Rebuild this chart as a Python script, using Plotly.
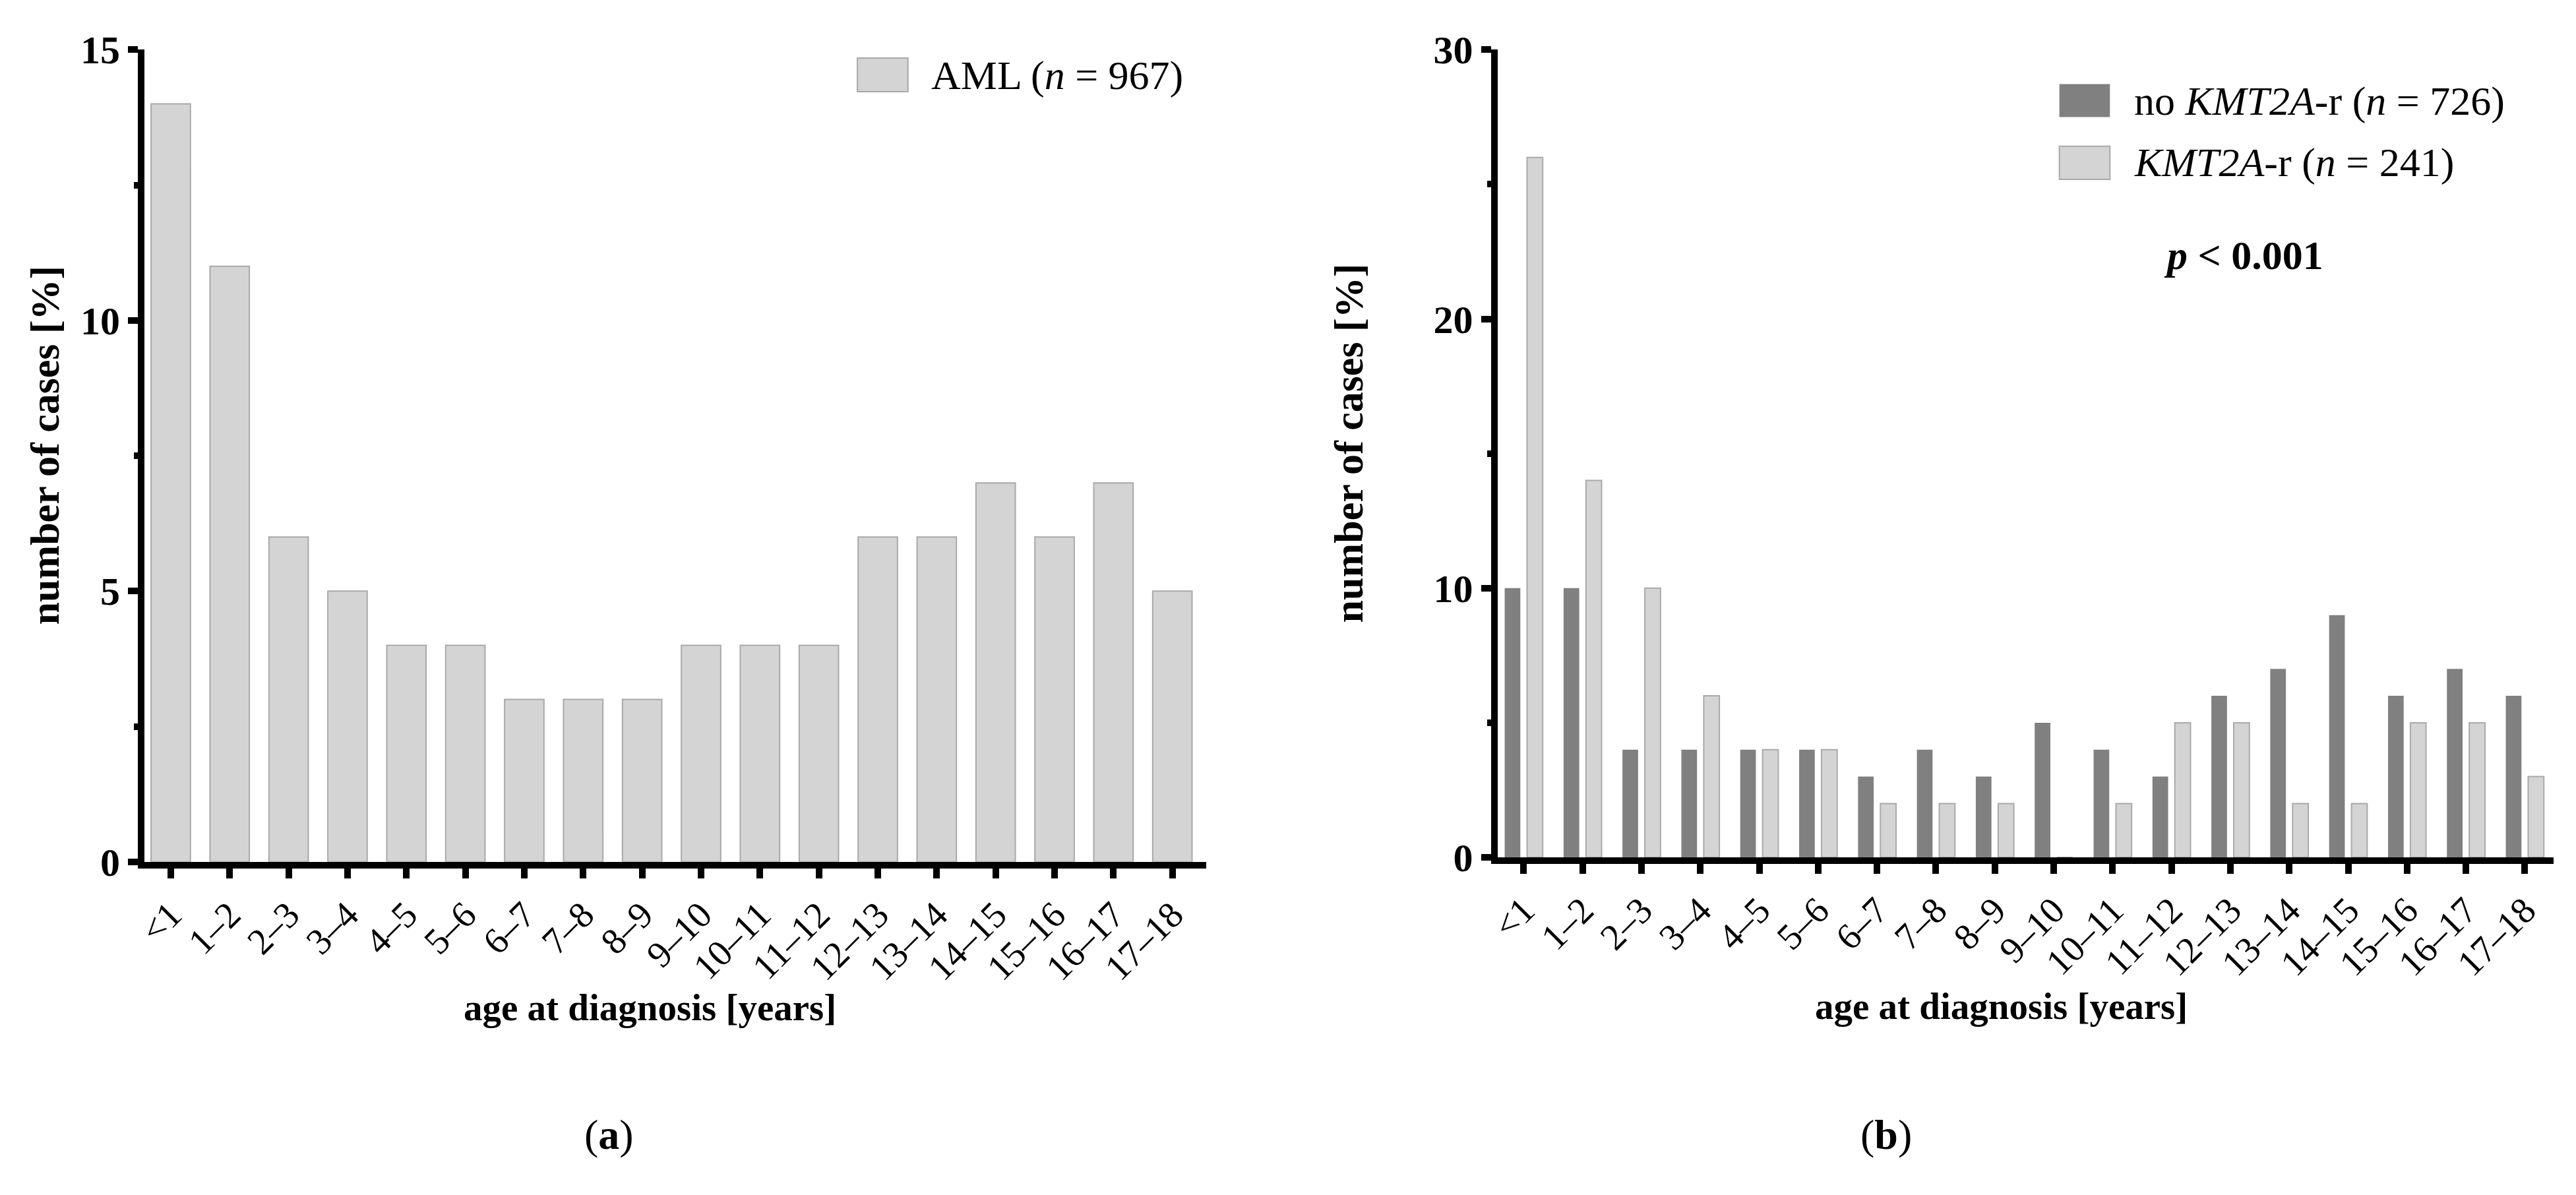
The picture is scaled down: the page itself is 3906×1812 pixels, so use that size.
import plotly.graph_objects as go

# ---------------- data ----------------
age_groups = ["<1", "1–2", "2–3", "3–4", "4–5", "5–6", "6–7", "7–8", "8–9", "9–10",
              "10–11", "11–12", "12–13", "13–14", "14–15", "15–16", "16–17", "17–18"]
aml_all = [14, 11, 6, 5, 4, 4, 3, 3, 3, 4, 4, 4, 6, 6, 7, 6, 7, 5]
no_kmt2a = [10, 10, 4, 4, 4, 4, 3, 4, 3, 5, 4, 3, 6, 7, 9, 6, 7, 6]
kmt2a_r = [26, 14, 10, 6, 4, 4, 2, 2, 2, 0, 2, 5, 5, 2, 2, 5, 5, 3]
left_yticks = [0, 5, 10, 15]
right_yticks = [0, 10, 20, 30]

# ---------------- geometry helpers ----------------
W, H = 3906, 1812
def fx(p):
    return p / W
def fy(p):
    return 1 - p / H

FONT = "Liberation Serif"
LIGHT = "#d4d4d4"
LIGHT_EDGE = "#a9a9ab"
DARK = "#808080"

fig = go.Figure()

fig.add_trace(go.Bar(
    x=age_groups, y=aml_all, name="AML (n = 967)", width=0.668,
    marker=dict(color=LIGHT, line=dict(color=LIGHT_EDGE, width=2)),
    xaxis="x", yaxis="y", showlegend=False,
))
fig.add_trace(go.Bar(
    x=age_groups, y=no_kmt2a, name="no KMT2A-r (n = 726)",
    marker=dict(color=DARK, line=dict(color=DARK, width=0)),
    xaxis="x2", yaxis="y2", showlegend=False,
))
fig.add_trace(go.Bar(
    x=age_groups, y=kmt2a_r, name="KMT2A-r (n = 241)",
    marker=dict(color=LIGHT, line=dict(color=LIGHT_EDGE, width=2)),
    xaxis="x2", yaxis="y2", showlegend=False,
))

xcommon = dict(
    type="category", showline=True, linewidth=10, linecolor="black",
    ticks="outside", ticklen=15, tickwidth=10, tickcolor="black",
    tickangle=-45, tickfont=dict(family=FONT, size=56, color="black"),
    showgrid=False, zeroline=False, fixedrange=True,
)
ycommon = dict(
    showline=True, linewidth=10, linecolor="black",
    ticks="outside", ticklen=15, tickwidth=10, tickcolor="black",
    tickfont=dict(family=FONT, size=60, color="black", weight="bold"),
    showgrid=False, zeroline=False, fixedrange=True,
)

fig.update_layout(
    width=W, height=H, autosize=False,
    margin=dict(l=0, r=0, t=0, b=0),
    paper_bgcolor="white", plot_bgcolor="white",
    barmode="group", bargap=0.24, bargroupgap=0.30,
    xaxis=dict(domain=[fx(202), fx(1819)], anchor="y", range=[-0.446, 17.57], **xcommon),
    yaxis=dict(domain=[fy(1323), fy(45)], anchor="x", range=[0, 15],
               tickvals=left_yticks,
               minor=dict(dtick=2.5, tick0=0, ticks="outside", ticklen=6, tickwidth=10, tickcolor="black"),
               **ycommon),
    xaxis2=dict(domain=[fx(2263), fx(3872)], anchor="y2", range=[-0.446, 17.49], **xcommon),
    yaxis2=dict(domain=[fy(1316), fy(45)], anchor="x2", range=[0, 30],
                tickvals=right_yticks,
                minor=dict(dtick=5, tick0=0, ticks="outside", ticklen=6, tickwidth=10, tickcolor="black"),
                **ycommon),
    showlegend=False,
)

annotations = []
def ann(text, x, y, size, xanchor="center", yanchor="middle", angle=0, bold=False):
    annotations.append(dict(
        text=text, x=fx(x), y=fy(y), xref="paper", yref="paper",
        xanchor=xanchor, yanchor=yanchor, showarrow=False, textangle=angle,
        font=dict(family=FONT, size=size, color="black", weight="bold" if bold else "normal"),
    ))

# axis titles
ann("age at diagnosis [years]", 972, 1552, 57, bold=True)
ann("age at diagnosis [years]", 3030, 1550, 57, bold=True)
ann("number of cases [%]", 50, 667, 62, angle=-90, bold=True)
ann("number of cases [%]", 2036, 664, 62, angle=-90, bold=True)

# legends (manual swatches)
ann("AML (<i>n</i> = 967)", 1398, 86, 62, xanchor="left")
ann("no <i>KMT2A</i>-r (<i>n</i> = 726)", 3231, 126, 62, xanchor="left")
ann("<i>KMT2A</i>-r (<i>n</i> = 241)", 3231, 223, 62, xanchor="left")
ann("<i>p</i> &lt; 0.001", 3400, 368, 62, bold=True)

# panel labels
ann("(<b>a</b>)", 910, 1752, 64)
ann("(<b>b</b>)", 2855, 1752, 64)

shapes = [
    dict(type="rect", xref="paper", yref="paper", x0=fx(1288), x1=fx(1365), y0=fy(111), y1=fy(58),
         fillcolor=LIGHT, line=dict(color=LIGHT_EDGE, width=2)),
    dict(type="rect", xref="paper", yref="paper", x0=fx(3119), x1=fx(3196), y0=fy(151), y1=fy(99),
         fillcolor=DARK, line=dict(color=DARK, width=0)),
    dict(type="rect", xref="paper", yref="paper", x0=fx(3119), x1=fx(3196), y0=fy(249), y1=fy(197),
         fillcolor=LIGHT, line=dict(color=LIGHT_EDGE, width=2)),
]

fig.update_layout(annotations=annotations, shapes=shapes)

fig.write_html(
    "out.html",
    config={"displayModeBar": False},
    post_script="document.body.style.margin='0';document.body.style.overflow='hidden';",
)
